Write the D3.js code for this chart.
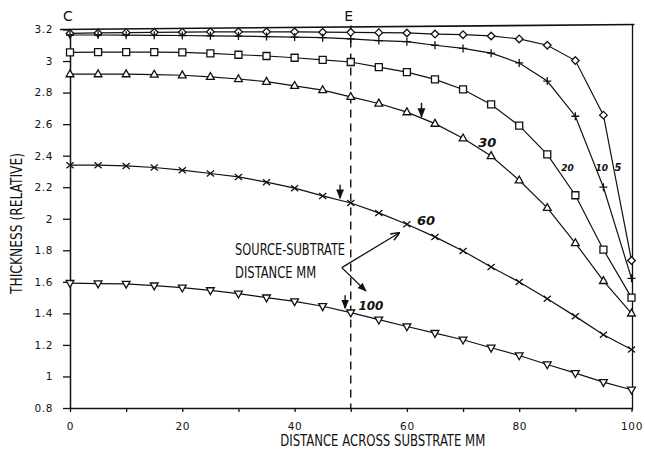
<!DOCTYPE html>
<html><head><meta charset="utf-8">
<script src="https://cdn.jsdelivr.net/npm/d3@7"></script>
<style>
html,body{margin:0;padding:0;background:#fff;}
svg{display:block;}
</style></head>
<body>
<svg id="chart" width="645" height="460"></svg>
<script>
// ---- data ----
const xPositions = [0,5,10,15,20,25,30,35,40,45,50,55,60,65,70,75,80,85,90,95,100];
const seriesNames = ["5","10","20","30","60","100"];
const d5   = [3.175,3.178,3.180,3.182,3.183,3.185,3.185,3.185,3.185,3.183,3.182,3.180,3.178,3.171,3.167,3.159,3.140,3.100,3.003,2.657,1.735];
const d10  = [3.165,3.165,3.164,3.163,3.162,3.160,3.158,3.155,3.152,3.148,3.140,3.130,3.123,3.100,3.080,3.050,2.988,2.873,2.650,2.200,1.622];
const d20  = [3.055,3.056,3.057,3.057,3.055,3.049,3.040,3.032,3.021,3.008,2.994,2.962,2.930,2.884,2.820,2.725,2.590,2.408,2.149,1.804,1.500];
const d30  = [2.917,2.917,2.917,2.914,2.910,2.900,2.886,2.869,2.843,2.816,2.773,2.731,2.676,2.603,2.510,2.398,2.244,2.069,1.846,1.606,1.400];
const d60  = [2.340,2.340,2.335,2.325,2.308,2.287,2.265,2.232,2.194,2.145,2.100,2.037,1.965,1.885,1.796,1.694,1.599,1.493,1.381,1.265,1.171];
const d100 = [1.592,1.589,1.587,1.576,1.563,1.546,1.525,1.500,1.476,1.445,1.405,1.360,1.317,1.275,1.233,1.182,1.133,1.076,1.021,0.964,0.916];
const markerTypes = ["diamond","plus","square","triangle","times","invtriangle"];
const yTickValues = [0.8,1,1.2,1.4,1.6,1.8,2,2.2,2.4,2.6,2.8,3,3.2];
const yTickLabels = ["0.8","1","1.2","1.4","1.6","1.8","2","2.2","2.4","2.6","2.8","3","3.2"];
const xTickValues = [0,10,20,30,40,50,60,70,80,90,100];
const xTickLabels = ["0","","20","","40","","60","","80","","100"];
const xTitle = "DISTANCE ACROSS SUBSTRATE MM";
const yTitle = "THICKNESS (RELATIVE)";
const noteLine1 = "SOURCE-SUBTRATE";
const noteLine2 = "DISTANCE MM";
const markLetters = ["C","E"];
const markLetterX = [0,50];

const allSeries = [d5,d10,d20,d30,d60,d100];

// ---- scales ----
const svg = d3.select("#chart");
const x = d3.scaleLinear().domain([0,100]).range([70,631.5]);
const y = d3.scaleLinear().domain([0.8,3.2]).range([408,29.5]);

const ink = "#111";
const tickFont = "'DejaVu Sans', sans-serif";
const titleFont = "'Liberation Sans Narrow','DejaVu Sans Condensed',sans-serif";

// ---- frame ----
svg.append("line").attr("x1",x(0)-10).attr("y1",y(3.2)).attr("x2",x(100)+3).attr("y2",y(3.2)-5)
  .attr("stroke",ink).attr("stroke-width",1.6);
svg.append("line").attr("x1",x(100)+1).attr("y1",y(3.2)-5).attr("x2",x(100)+1).attr("y2",y(0.8)+2)
  .attr("stroke",ink).attr("stroke-width",1.3);

// ---- axes ----
const yAxis = d3.axisLeft(y).tickValues(yTickValues)
  .tickFormat((d,i)=>yTickLabels[i]).tickSize(7).tickSizeOuter(0).tickPadding(10);
const gy = svg.append("g").attr("transform",`translate(${x(0)},0)`).call(yAxis);
gy.select(".domain").attr("stroke",ink).attr("stroke-width",1.5);
gy.selectAll(".tick line").attr("stroke",ink).attr("stroke-width",1.3);
gy.selectAll("text").attr("font-family",tickFont).attr("font-size",10.5).attr("fill",ink)
  .attr("letter-spacing",0.6);

const xAxis = d3.axisBottom(x).tickValues(xTickValues)
  .tickFormat((d,i)=>xTickLabels[i]).tickSize(4).tickSizeOuter(0).tickPadding(11);
const gx = svg.append("g").attr("transform",`translate(0,${y(0.8)})`).call(xAxis);
gx.select(".domain").attr("stroke",ink).attr("stroke-width",1.5);
gx.selectAll(".tick line").attr("stroke",ink).attr("stroke-width",1.3);
gx.selectAll("text").attr("font-family",tickFont).attr("font-size",10.5).attr("fill",ink)
  .attr("letter-spacing",0.6);

// titles
svg.append("text").attr("x",x(50)+32).attr("y",446).attr("text-anchor","middle")
  .attr("font-family",titleFont).attr("font-size",16).attr("fill",ink)
  .attr("textLength",205).attr("lengthAdjust","spacingAndGlyphs").text(xTitle);
svg.append("text").attr("transform",`translate(22,${y(1.97)}) rotate(-90)`).attr("text-anchor","middle")
  .attr("font-family",titleFont).attr("font-size",15).attr("fill",ink)
  .attr("textLength",141).attr("lengthAdjust","spacingAndGlyphs").text(yTitle);

// C / E letters
svg.selectAll("text.mark").data(markLetters).enter().append("text")
  .attr("x",(d,i)=>x(markLetterX[i])-2).attr("y",21).attr("text-anchor","middle")
  .attr("font-family",tickFont).attr("font-size",14).attr("fill",ink).text(d=>d);

// dashed line at E
svg.append("line").attr("x1",x(50)).attr("x2",x(50)).attr("y1",y(3.2)-4).attr("y2",y(0.8))
  .attr("stroke",ink).attr("stroke-width",1.4).attr("stroke-dasharray","8,6");

// ---- series ----
const line = d3.line().x((d,i)=>x(xPositions[i])).y(d=>y(d));
const markerPath = {
  diamond: "M0,-3.8L3.8,0L0,3.8L-3.8,0Z",
  plus: "M-4,0H4M0,-4V4",
  square: "M-3.5,-3.5H3.5V3.5H-3.5Z",
  triangle: "M0,-4.3L3.9,2.6L-3.9,2.6Z",
  times: "M-3.6,-3L3.6,3M-3.6,3L3.6,-3",
  invtriangle: "M0,4.3L3.9,-2.6L-3.9,-2.6Z"
};
allSeries.forEach((s,k)=>{
  svg.append("path").datum(s).attr("d",line).attr("fill","none")
    .attr("stroke",ink).attr("stroke-width",1.2);
  svg.append("g").selectAll("path").data(s).enter().append("path")
    .attr("transform",(d,i)=>`translate(${x(xPositions[i])},${y(d)})`)
    .attr("d",markerPath[markerTypes[k]])
    .attr("fill",(markerTypes[k]==="plus"||markerTypes[k]==="times")?"none":"#fff")
    .attr("stroke",ink).attr("stroke-width",1.3);
});

// ---- series labels ----
const labelX = [97.6,94.7,88.6,74.3,63.4,53.6];
const labelY = [2.33,2.33,2.33,2.48,1.985,1.444];
const labelSize = [10,9,9,13,13,12];
seriesNames.forEach((n,k)=>{
  svg.append("text").attr("x",x(labelX[k])).attr("y",y(labelY[k])+4).attr("text-anchor","middle")
    .attr("font-family",tickFont).attr("font-weight","bold").attr("font-size",labelSize[k])
    .attr("font-style","italic").attr("fill",ink).text(n);
});

// ---- note ----
svg.append("text").attr("x",x(29.4)).attr("y",y(1.69)-13).attr("font-family",titleFont)
  .attr("font-size",15).attr("fill",ink).attr("textLength",110).attr("lengthAdjust","spacingAndGlyphs").text(noteLine1);
svg.append("text").attr("x",x(29.4)).attr("y",y(1.69)+10).attr("font-family",titleFont)
  .attr("font-size",15).attr("fill",ink).attr("textLength",81).attr("lengthAdjust","spacingAndGlyphs").text(noteLine2);

const defs = svg.append("defs");
defs.append("marker").attr("id","ah").attr("viewBox","0 0 10 10").attr("refX",9).attr("refY",5)
  .attr("markerWidth",7).attr("markerHeight",7).attr("orient","auto")
  .append("path").attr("d","M0,1L10,5L0,9").attr("fill","none").attr("stroke",ink).attr("stroke-width",1.6);
defs.append("marker").attr("id","ahf").attr("viewBox","0 0 10 10").attr("refX",9).attr("refY",5)
  .attr("markerWidth",7).attr("markerHeight",7).attr("orient","auto")
  .append("path").attr("d","M0,1L10,5L0,9Z").attr("fill",ink);

// pointers from note
svg.append("line").attr("x1",x(48.4)).attr("y1",y(1.69)).attr("x2",x(58.6)).attr("y2",y(1.91))
  .attr("stroke",ink).attr("stroke-width",1.3).attr("marker-end","url(#ah)");
svg.append("line").attr("x1",x(48.4)).attr("y1",y(1.69)).attr("x2",x(52.7)).attr("y2",y(1.542))
  .attr("stroke",ink).attr("stroke-width",1.3).attr("marker-end","url(#ahf)");

// small down arrows
const arrowX = [62.6,48.1,49.0];
const arrowTop = [2.735,2.215,1.515];
const arrowBot = [2.645,2.13,1.432];
arrowX.forEach((a,i)=>{
  svg.append("line").attr("x1",x(a)).attr("x2",x(a)).attr("y1",y(arrowTop[i])).attr("y2",y(arrowBot[i]))
    .attr("stroke",ink).attr("stroke-width",1.4).attr("marker-end","url(#ahf)");
});
</script>
</body></html>
